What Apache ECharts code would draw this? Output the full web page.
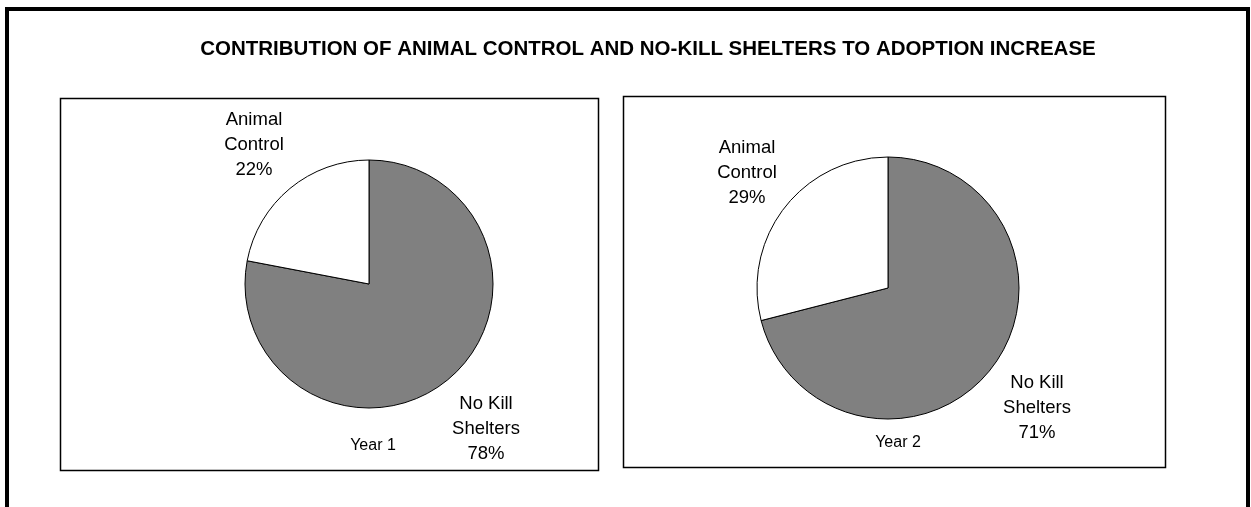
<!DOCTYPE html>
<html>
<head>
<meta charset="utf-8">
<style>
  html, body { margin: 0; padding: 0; background: #fff; }
  #chart { width: 1251px; height: 507px; }
</style>
<script src="https://cdn.jsdelivr.net/npm/echarts@6/dist/echarts.min.js"></script>
</head>
<body>
<div id="chart"></div>
<script>
// Share of the adoption increase, by shelter type
const categories = ['No Kill\nShelters', 'Animal\nControl'];
const year1Values = [78, 22];
const year2Values = [71, 29];
const panelTitles = ['Year 1', 'Year 2'];
const chartTitle = 'CONTRIBUTION OF ANIMAL CONTROL AND NO-KILL SHELTERS TO ADOPTION INCREASE';

const sliceColors = ['#808080', '#ffffff'];
const FONT = '"Liberation Sans", Arial, Helvetica, sans-serif';

// Label anchor points (centre of each label block), per pie and slice
const labelSpots = [
  [[486, 429], [254, 145]],
  [[1037, 408], [747, 173]]
];

const chart = echarts.init(document.getElementById('chart'), null, { renderer: 'canvas' });

function pieSeries(values, center, radius, idx) {
  return {
    type: 'pie',
    center: center,
    radius: radius,
    startAngle: 90,
    clockwise: true,
    animation: false,
    silent: true,
    data: categories.map((name, i) => ({
      name: name,
      value: values[i],
      itemStyle: { color: sliceColors[i] }
    })),
    itemStyle: { borderColor: '#000', borderWidth: 1 },
    label: {
      show: true,
      formatter: '{b}\n{d}%',
      fontFamily: FONT,
      fontSize: 18.5,
      lineHeight: 25,
      color: '#000',
      align: 'center'
    },
    labelLine: { show: false },
    labelLayout: function (p) {
      const s = labelSpots[idx][p.dataIndex];
      return { x: s[0], y: s[1], align: 'center', verticalAlign: 'middle' };
    },
    emphasis: { disabled: true }
  };
}

chart.setOption({
  backgroundColor: '#fff',
  graphic: [
    // outer frame (open at the bottom)
    { type: 'polyline', shape: { points: [[7, 507], [7, 9], [1248, 9], [1248, 507]] },
      style: { stroke: '#000', lineWidth: 4, fill: null }, silent: true },
    // chart heading
    { type: 'text', x: 648, y: 49,
      style: { text: chartTitle, font: 'bold 20.5px ' + FONT,
               fill: '#000', align: 'center', verticalAlign: 'middle' }, silent: true },
    // panel boxes
    { type: 'rect', shape: { x: 60.5, y: 98.5, width: 538, height: 372 },
      style: { stroke: '#000', lineWidth: 1.5, fill: null }, silent: true },
    { type: 'rect', shape: { x: 623.5, y: 96.5, width: 542, height: 371 },
      style: { stroke: '#000', lineWidth: 1.5, fill: null }, silent: true },
    { type: 'text', x: 373, y: 446,
      style: { text: panelTitles[0], font: '16px ' + FONT,
               fill: '#000', align: 'center', verticalAlign: 'middle' }, silent: true },
    { type: 'text', x: 898, y: 443,
      style: { text: panelTitles[1], font: '16px ' + FONT,
               fill: '#000', align: 'center', verticalAlign: 'middle' }, silent: true }
  ],
  series: [
    pieSeries(year1Values, [369, 284], 124, 0),
    pieSeries(year2Values, [888, 288], 131, 1)
  ]
});
</script>
</body>
</html>
